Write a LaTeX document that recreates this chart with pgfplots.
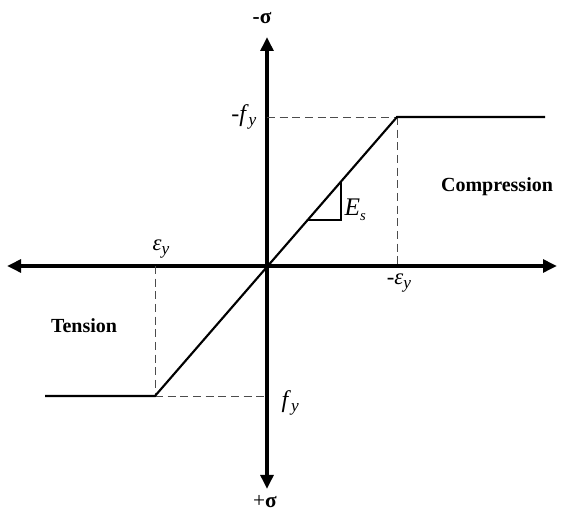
\documentclass[border=0pt]{standalone}
\usepackage{fontspec}
\setmainfont{Liberation Serif}
\usepackage{pgfplots}
\pgfplotsset{compat=1.18}
\usetikzlibrary{arrows.meta}
\begin{document}
\begin{tikzpicture}
\begin{axis}[
  name=ax,
  scale only axis, width=420.75pt, height=385.5pt,
  xmin=-267, xmax=294, ymin=-248, ymax=266,
  axis lines=none, clip=false,
]
% axes
\addplot[line width=3.3pt, {Triangle[length=10.5pt,width=9.5pt]}-{Triangle[length=10.5pt,width=9.5pt]}] coordinates {(-260,0) (290,0)};
\addplot[line width=3.6pt, {Triangle[length=10.5pt,width=9.5pt]}-{Triangle[length=10.5pt,width=9.5pt]}] coordinates {(0,-223) (0,229)};
% dashed guides
\addplot[line width=0.7pt, dash pattern=on 6pt off 3.5pt, black!70] coordinates {(-112,0) (-112,-130)};
\addplot[line width=0.7pt, dash pattern=on 6pt off 3.5pt, black!70] coordinates {(-112,-130) (0,-130)};
\addplot[line width=0.7pt, dash pattern=on 6pt off 3.5pt, black!70] coordinates {(0,149) (130,149)};
\addplot[line width=0.7pt, dash pattern=on 6pt off 3.5pt, black!70] coordinates {(130,149) (130,0)};
% stress-strain curve
\addplot[line width=1.6pt, line join=miter] coordinates {(-222,-130) (-112,-130) (130,149) (278,149)};
% slope triangle
\addplot[line width=1.3pt] coordinates {(40,46) (74,46) (74,85)};
% labels
\node[font=\fontsize{16pt}{18pt}\selectfont\bfseries] at (axis cs:-5,248) {-σ};
\node[font=\fontsize{16pt}{18pt}\selectfont, inner sep=0pt] at (axis cs:-2,-236) {+\textbf{σ}};
\node[font=\fontsize{18pt}{20pt}\selectfont, anchor=east, inner sep=1pt] at (axis cs:-9,149) {-\textit{f}\raisebox{-0.3ex}{\fontsize{13pt}{14pt}\selectfont\textit{y}}};
\node[font=\fontsize{18pt}{20pt}\selectfont, anchor=west, inner sep=1pt] at (axis cs:13,-137) {\textit{f}\raisebox{-0.3ex}{\fontsize{13pt}{14pt}\selectfont\textit{y}}};
\node[font=\fontsize{19pt}{21pt}\selectfont, anchor=west, inner sep=1pt] at (axis cs:76,56) {\textit{E}\raisebox{-0.4ex}{\fontsize{11pt}{12pt}\selectfont\textit{s}}};
\node[font=\fontsize{17pt}{19pt}\selectfont, anchor=center] at (axis cs:132,-17) {-\textit{ε}\raisebox{-0.3ex}{\fontsize{13pt}{14pt}\selectfont\textit{y}}};
\node[font=\fontsize{17pt}{19pt}\selectfont, anchor=center] at (axis cs:-106,17) {\textit{ε}\raisebox{-0.3ex}{\fontsize{13pt}{14pt}\selectfont\textit{y}}};
\node[font=\fontsize{15pt}{17pt}\selectfont\bfseries] at (axis cs:230,79) {Compression};
\node[font=\fontsize{15pt}{17pt}\selectfont\bfseries] at (axis cs:-183,-60) {Tension};
\end{axis}
\pgfresetboundingbox
\path[use as bounding box] (ax.south west) rectangle (ax.north east);
\end{tikzpicture}
\end{document}
